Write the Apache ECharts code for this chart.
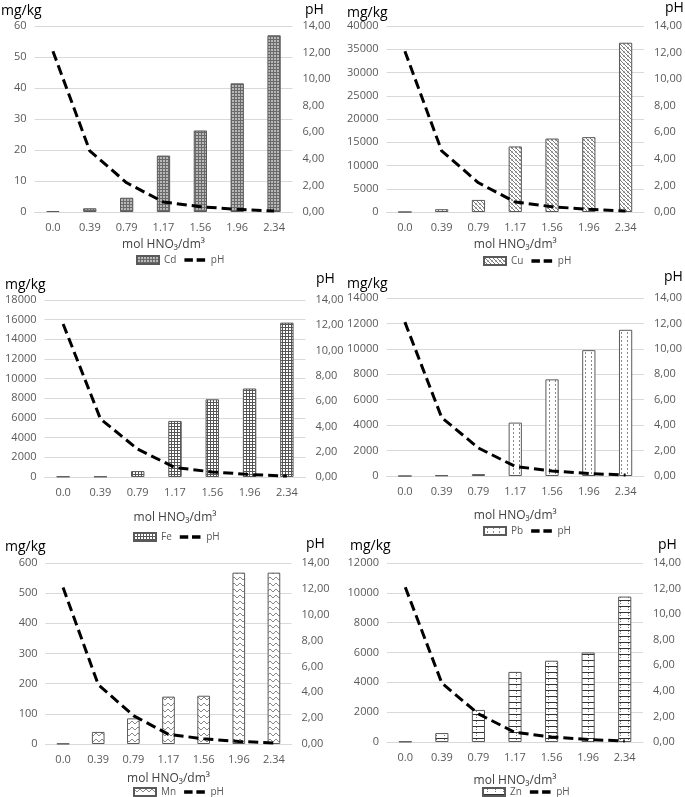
<!DOCTYPE html>
<html><head><meta charset="utf-8">
<script src="https://cdn.jsdelivr.net/npm/echarts@6/dist/echarts.min.js"></script>
<style>html,body{margin:0;padding:0;background:#fff}#c{width:685px;height:797px}</style>
</head><body><div id="c"></div>
<script>
const categories = ['0.0','0.39','0.79','1.17','1.56','1.96','2.34'];
const pH = [12.1, 4.6, 2.2, 0.75, 0.4, 0.2, 0.07];
const cd = [0.3, 1.2, 4.6, 18.2, 26.3, 41.5, 57];
const cu = [0, 600, 2600, 14100, 15800, 16100, 36400];
const fe = [50, 50, 600, 5700, 7900, 9000, 15700];
const pb = [0, 50, 150, 4200, 7600, 9900, 11500];
const mn = [1, 40, 85, 157, 160, 568, 568];
const zn = [30, 600, 2150, 4700, 5450, 6000, 9750];
const leftMax = [60, 40000, 18000, 14000, 600, 12000];
const leftStep = [10, 5000, 2000, 2000, 100, 2000];
const metals = ['Cd','Cu','Fe','Pb','Mn','Zn'];
const seriesData = [cd, cu, fe, pb, mn, zn];
const xAxisTitle = 'mol HNO\u2083/dm\u00B3';

function tile(w, h, draw) {
  const c = document.createElement('canvas'); c.width = w; c.height = h;
  const g = c.getContext('2d'); g.fillStyle = '#fff'; g.fillRect(0,0,w,h); draw(g); return c;
}
const patterns = [
  tile(3,3,g=>{g.fillStyle='#6a6a6a';g.fillRect(0,0,3,1);g.fillRect(0,0,1,3);g.fillStyle='#b8b8b8';g.fillRect(1,1,2,2);}),
  tile(4,4,g=>{g.fillStyle='#7a7a7a';for(let i=0;i<4;i++){g.fillRect(i,i,1,1);} g.fillStyle='#b0b0b0';g.fillRect(3,0,1,1);g.fillRect(0,3,1,1);}),
  tile(3,3,g=>{g.fillStyle='#555';g.fillRect(0,0,1,3);g.fillRect(0,0,3,1);}),
  tile(6,4,g=>{g.fillStyle='#888';g.fillRect(3,0,1,2);}),
  tile(6,6,g=>{g.strokeStyle='#888';g.lineWidth=1;g.beginPath();g.moveTo(0,1);g.lineTo(3,4);g.lineTo(6,1);g.stroke();}),
  tile(8,6,g=>{g.fillStyle='#333';g.fillRect(0,0,8,1);g.fillStyle='#777';g.fillRect(4,1,1,1);g.fillRect(4,3,1,1);})
];

const grids = [
  {left:34.5, top:26, width:258, height:186},
  {left:386.5, top:26, width:265, height:186},
  {left:44.5, top:300, width:261, height:177},
  {left:386.5, top:298, width:262, height:178},
  {left:45.5, top:563, width:246, height:181},
  {left:387, top:563, width:256, height:179}
];
const nameGaps = [27, 27, 35, 34, 29, 33];
const legendPos = [[173,256],[520,257],[170,533],[520,527],[170,788],[519,788]];
const mgPos = [[1,12],[347,14],[5,286],[347,285],[5,548],[350,547]];
const phPos = [[305,12],[665,10],[316,281],[664,279],[306,546],[658,547]];
const dashIcon = 'path://M0,2.5h9v3.5h-9zM13,2.5h9v3.5h-9zM0,0h0.01v0.01h-0.01zM22,8.49h0.01v0.01h-0.01z';

const font = 'Open Sans, Liberation Sans, sans-serif';
const opt = {animation:false, grid:[], xAxis:[], yAxis:[], series:[], legend:[], graphic:[]};
for (let i=0;i<6;i++){
  opt.grid.push(Object.assign({containLabel:false}, grids[i]));
  opt.xAxis.push({type:'category', gridIndex:i, data:categories,
    axisLine:{show:true, lineStyle:{color:'#d9d9d9'}}, axisTick:{show:false},
    axisLabel:{color:'#595959', fontSize:11, fontFamily:font, margin:10},
    name:xAxisTitle, nameLocation:'middle', nameGap:nameGaps[i],
    nameTextStyle:{color:'#404040', fontSize:12, fontFamily:font}});
  opt.yAxis.push({type:'value', gridIndex:i, min:0, max:leftMax[i], interval:leftStep[i],
    axisLine:{show:false}, axisTick:{show:false},
    splitLine:{lineStyle:{color:'#d9d9d9'}},
    axisLabel:{color:'#595959', fontSize:11, fontFamily:font, margin:8, formatter:v=>String(v)}});
  opt.yAxis.push({type:'value', gridIndex:i, position:'right', min:0, max:14, interval:2,
    axisLine:{show:false}, axisTick:{show:false}, splitLine:{show:false},
    axisLabel:{color:'#595959', fontSize:11, fontFamily:font, margin:10,
      formatter:v=>v.toFixed(2).replace('.',',')}});
  opt.series.push({type:'bar', name:metals[i], xAxisIndex:i, yAxisIndex:2*i, data:seriesData[i],
    barWidth:'36%', itemStyle:{color:{image:patterns[i], repeat:'repeat'}, borderColor:'#595959', borderWidth:1}});
  opt.series.push({type:'line', name:'pH', xAxisIndex:i, yAxisIndex:2*i+1, data:pH,
    symbol:'none', itemStyle:{color:'#000'}, lineStyle:{color:'#000', width:3, type:[10,5]}, z:5});
  opt.legend.push({data:[{name:metals[i], icon:'rect'}, {name:'pH', icon:dashIcon, itemStyle:{color:'#000', borderWidth:0}}],
    left:legendPos[i][0]-42, top:legendPos[i][1]-6,
    itemWidth:22, itemHeight:8, itemGap:8, textStyle:{color:'#595959', fontSize:10, fontFamily:font}});
  opt.graphic.push({type:'text', left:mgPos[i][0], top:mgPos[i][1]-8, style:{text:'mg/kg', fontSize:14, fontFamily:font, fill:'#000'}});
  opt.graphic.push({type:'text', left:phPos[i][0], top:phPos[i][1]-9, style:{text:'pH', fontSize:14, fontFamily:font, fill:'#000'}});
}
const chart = echarts.init(document.getElementById('c'));
chart.setOption(opt);
</script></body></html>
